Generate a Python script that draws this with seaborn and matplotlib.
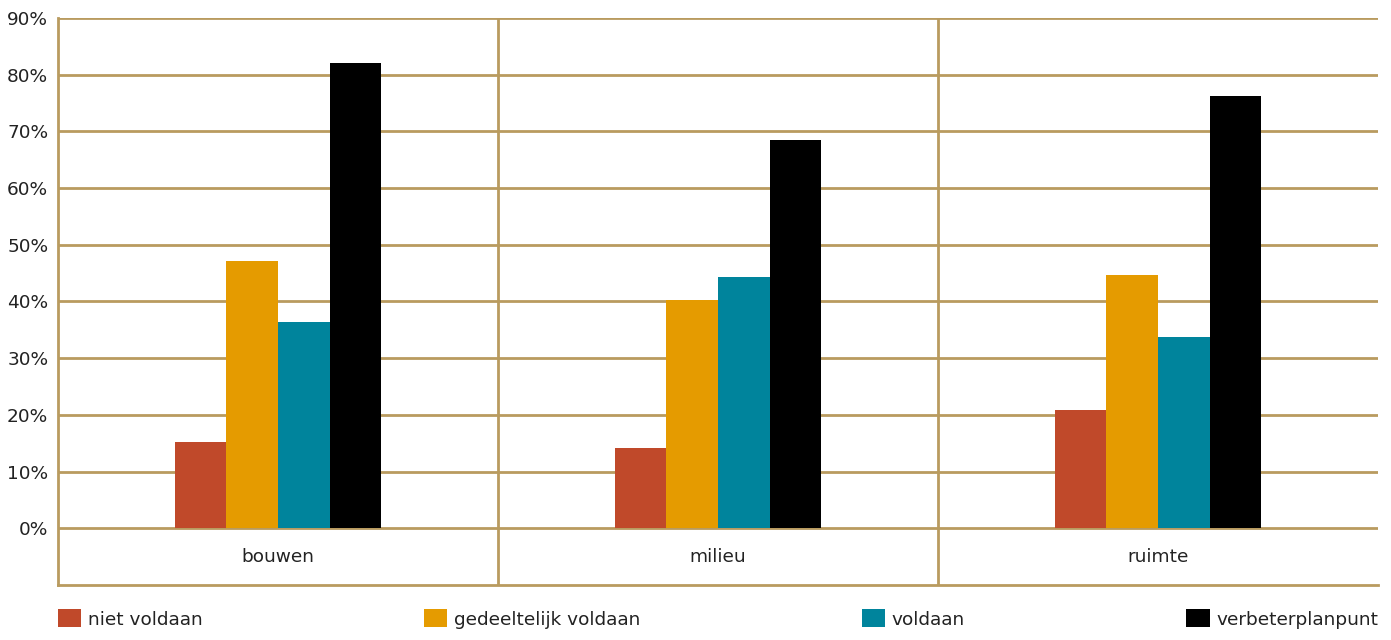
import pandas as pd
import numpy as np
import matplotlib
matplotlib.use("Agg")
import matplotlib.pyplot as plt
import seaborn as sns

# categories and series (percentages)
categories = ["bouwen", "milieu", "ruimte"]
series = ["niet voldaan", "gedeeltelijk voldaan", "voldaan", "verbeterplanpunt"]
niet_voldaan = [15.3, 14.1, 20.8]
gedeeltelijk_voldaan = [47.2, 40.3, 44.7]
voldaan = [36.3, 44.4, 33.8]
verbeterplanpunt = [82.0, 68.5, 76.2]
yticks = list(range(0, 100, 10))
ytick_labels = ["{}%".format(t) for t in yticks]

colors = ["#C0492A", "#E59B00", "#00849C", "#000000"]
gold = "#B99B5F"
txt = "#222222"
fs = 13.3

df = pd.DataFrame({
    "cat": categories * 4,
    "serie": [s for s in series for _ in categories],
    "pct": niet_voldaan + gedeeltelijk_voldaan + voldaan + verbeterplanpunt,
})

sns.set_theme(style="white")
plt.rcParams["font.family"] = ["DejaVu Sans"]

fig = plt.figure(figsize=(13.91, 6.4), dpi=100)
ax = fig.add_axes([58 / 1391, 1 - 585 / 640, (1378 - 58) / 1391, (585 - 18) / 640])

sns.barplot(data=df, x="cat", y="pct", hue="serie", hue_order=series,
            palette=colors, width=0.47, saturation=1, ax=ax, zorder=3,
            linewidth=0)

ax.set_ylim(-10, 90)
ax.set_xlim(-0.5, 2.5)
ax.set_yticks(yticks)
ax.set_yticklabels(ytick_labels, fontsize=fs, color=txt)
ax.tick_params(axis="y", length=0, pad=7)
ax.set_xticks([])
ax.set_xlabel("")
ax.set_ylabel("")

for t in yticks:
    ax.axhline(t, color=gold, lw=2.0, zorder=1)
for x in [0.5, 1.5]:
    ax.axvline(x, color=gold, lw=2.0, zorder=1)

for s in ["top", "right"]:
    ax.spines[s].set_visible(False)
for s in ["left", "bottom"]:
    ax.spines[s].set_color(gold)
    ax.spines[s].set_linewidth(2.0)

for i, c in enumerate(categories):
    ax.text(i, -5, c, ha="center", va="center", fontsize=fs, color=txt)

handles, labels = ax.get_legend_handles_labels()
ax.legend_.remove()
ax.legend(handles, labels, loc="center", bbox_to_anchor=(0, -0.11, 1, 0.1),
          mode="expand", ncol=4, frameon=False, fontsize=fs,
          handlelength=1.25, handleheight=1.1, handletextpad=0.35,
          borderaxespad=0, borderpad=0, labelcolor=txt)

fig.savefig("out.png", dpi=100)
